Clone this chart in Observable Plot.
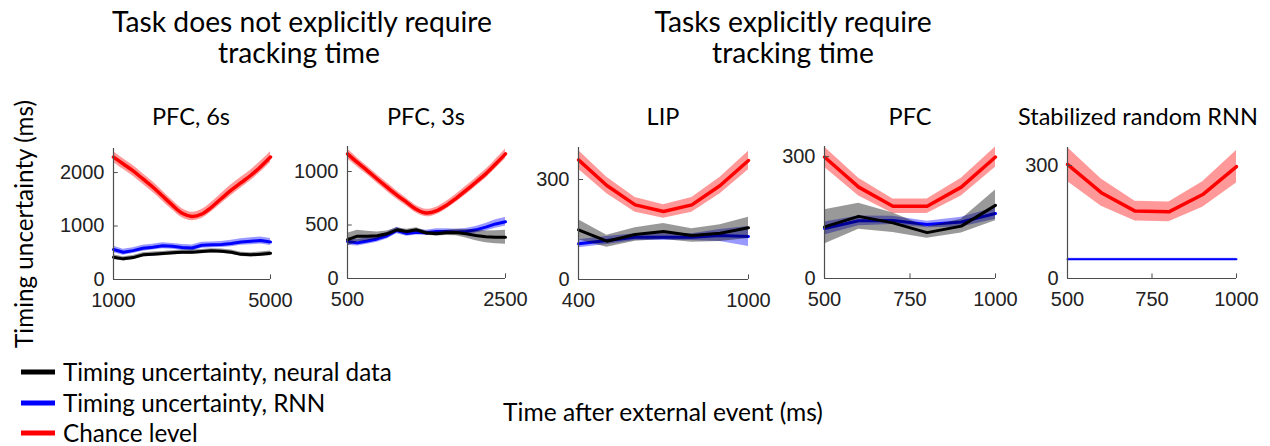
<!DOCTYPE html>
<html><head><meta charset="utf-8">
<script src="https://cdn.jsdelivr.net/npm/d3@7"></script>
<script src="https://cdn.jsdelivr.net/npm/@observablehq/plot@0.6"></script>
<style>
body{margin:0;background:#fff;}
#root{position:relative;width:1270px;height:446px;overflow:hidden;}
.pn{position:absolute;}
</style></head><body><div id="root"></div>
<script>
// ---------- DATA ----------
// Panel 1: PFC, 6s
const p1X = [1000,1250,1500,1750,2000,2250,2500,2750,3000,3250,3500,3750,4000,4250,4500,4750,5000];
const p1Chance = [2290,2160,2030,1880,1730,1560,1390,1240,1180,1225,1355,1515,1670,1810,1950,2110,2290];
const p1ChanceErr = [100,100,100,100,100,95,90,85,80,85,90,95,100,100,100,100,100];
const p1Neural = [417,386,410,461,474,486,500,511,511,523,536,530,511,470,461,474,490];
const p1NeuralErr = [45,40,40,40,40,40,40,40,40,40,40,40,40,40,40,40,45];
const p1Rnn = [561,510,540,585,605,630,620,600,590,640,648,655,673,700,715,730,700];
const p1RnnErr = [60,55,55,55,55,55,55,55,55,55,55,55,60,60,65,65,65];

// Panel 2: PFC, 3s
const p2X = [500,625,750,875,1000,1125,1250,1375,1500,1625,1750,1875,2000,2125,2250,2375,2500];
const p2Chance = [1165,1085,1009,930,854,780,712,645,612,632,683,750,823,900,978,1070,1165];
const p2ChanceErr = [45,42,40,40,40,38,36,35,35,35,36,38,40,40,40,42,45];
const p2Neural = [364,396,396,400,418,455,440,455,425,418,427,430,418,402,390,386,386];
const p2NeuralErr = [60,55,45,35,25,20,20,20,20,20,25,30,40,50,55,60,65];
const p2Rnn = [346,333,350,370,400,449,420,432,427,439,439,435,440,455,480,510,530];
const p2RnnErr = [35,30,30,30,30,30,25,25,25,25,25,25,28,30,35,40,40];

// Panel 3: LIP
const p3X = [400,500,600,700,800,900,1000];
const p3Chance = [359,282,224,204,224,282,357];
const p3ChanceErr = [28,25,22,20,22,25,28];
const p3Neural = [149,115,135,144,132,139,155];
const p3NeuralErr = [30,18,20,24,20,25,32];
const p3Rnn = [107,117,127,127,127,132,129];
const p3RnnErr = [12,12,10,10,10,18,30];

// Panel 4: PFC
const p4X = [500,600,700,800,900,1000];
const p4Chance = [299,225,178,178,225,299];
const p4ChanceErr = [25,22,18,18,22,25];
const p4Neural = [127,153,137,113,129,180];
const p4NeuralErr = [42,32,24,14,17,38];
const p4Rnn = [123,142,143,133,139,160];
const p4RnnErr = [16,12,10,8,12,14];

// Panel 5: Stabilized random RNN
const p5X = [500,600,700,800,900,1000];
const p5Chance = [303,228,179,177,223,297];
const p5ChanceErr = [45,36,26,26,34,43];
const p5Rnn = [51,51,51,51,51,51];
const p5RnnErr = [3,3,3,3,3,3];

// Axis ticks / titles
const panelTitles = ["PFC, 6s","PFC, 3s","LIP","PFC","Stabilized random RNN"];
const xTicks = [[1000,5000],[500,2500],[400,1000],[500,750,1000],[500,750,1000]];
const yTicks = [[0,1000,2000],[0,500,1000],[0,300],[0,300],[0,300]];
const groupTitles = [["Task does not explicitly require","tracking time"],["Tasks explicitly require","tracking time"]];
const legendLabels = ["Timing uncertainty, neural data","Timing uncertainty, RNN","Chance level"];
const legendColors = ["#000000","#0000ff","#ff0000"];
const yLabel = "Timing uncertainty (ms)";
const xLabel = "Time after external event (ms)";

// ---------- LAYOUT ----------
const layout = [
  {left:113,right:270,top:148,bottom:279,ymax:2450,xdom:[1000,5000],smooth:true},
  {left:347,right:505,top:146,bottom:278,ymax:1234,xdom:[500,2500],smooth:true},
  {left:578,right:748,top:147,bottom:279,ymax:396,xdom:[400,1000],smooth:false},
  {left:824,right:995,top:146,bottom:278,ymax:325,xdom:[500,1000],smooth:false},
  {left:1067,right:1236,top:147,bottom:278,ymax:348,xdom:[500,1000],smooth:false}
];
const series = [
  {x:p1X, chance:[p1Chance,p1ChanceErr], neural:[p1Neural,p1NeuralErr], rnn:[p1Rnn,p1RnnErr]},
  {x:p2X, chance:[p2Chance,p2ChanceErr], neural:[p2Neural,p2NeuralErr], rnn:[p2Rnn,p2RnnErr]},
  {x:p3X, chance:[p3Chance,p3ChanceErr], neural:[p3Neural,p3NeuralErr], rnn:[p3Rnn,p3RnnErr]},
  {x:p4X, chance:[p4Chance,p4ChanceErr], neural:[p4Neural,p4NeuralErr], rnn:[p4Rnn,p4RnnErr]},
  {x:p5X, chance:[p5Chance,p5ChanceErr], neural:null, rnn:[p5Rnn,p5RnnErr]}
];

const root = document.getElementById("root");
const AX = "#4d4d4d";

function rows(xs, pair) {
  return xs.map((x,i)=>({x, y:pair[0][i], lo:pair[0][i]-pair[1][i], hi:pair[0][i]+pair[1][i]}));
}

layout.forEach((L, k) => {
  const S = series[k];
  const mL = 70, mR = 25, mT = 6, mB = 40;
  const w = L.right - L.left + mL + mR;
  const h = L.bottom - L.top + mT + mB;
  const xspan = L.xdom[1]-L.xdom[0];
  const rc = L.smooth ? "catmull-rom" : "linear";
  const marks = [];
  const ch = rows(S.x, S.chance);
  marks.push(Plot.areaY(ch, {x:"x", y1:"lo", y2:"hi", fill:"#ff0000", fillOpacity:0.4, curve:rc}));
  const rn = rows(S.x, S.rnn);
  marks.push(Plot.areaY(rn, {x:"x", y1:"lo", y2:"hi", fill:"#0000ff", fillOpacity:0.4}));
  marks.push(Plot.line(rn, {x:"x", y:"y", stroke:"#0000ff", strokeWidth: S.neural ? 3 : 2}));
  if (S.neural) {
    const ne = rows(S.x, S.neural);
    marks.push(Plot.areaY(ne, {x:"x", y1:"lo", y2:"hi", fill:"#000000", fillOpacity:0.4}));
    marks.push(Plot.line(ne, {x:"x", y:"y", stroke:"#000000", strokeWidth:3}));
  }
  marks.push(Plot.line(ch, {x:"x", y:"y", stroke:"#ff0000", strokeWidth:3.5, curve:rc}));
  // axes
  marks.push(Plot.ruleY([0], {x1:L.xdom[0], x2:L.xdom[1], stroke:AX, strokeWidth:1.2}));
  marks.push(Plot.ruleX([L.xdom[0]], {stroke:AX, strokeWidth:1.2}));
  marks.push(Plot.ruleX(xTicks[k], {x:d=>d, y1:0, y2:L.ymax*0.035, stroke:AX}));
  marks.push(Plot.ruleY(yTicks[k], {y:d=>d, x1:L.xdom[0], x2:L.xdom[0]+xspan*0.03, stroke:AX}));
  marks.push(Plot.axisX({ticks:xTicks[k], tickSize:0, tickPadding:13, tickFormat:d=>String(d), label:null}));
  marks.push(Plot.axisY({ticks:yTicks[k], tickSize:0, tickPadding:9, tickFormat:d=>String(d), label:null}));
  const svg = Plot.plot({
    width:w, height:h, marginLeft:mL, marginRight:mR, marginTop:mT, marginBottom:mB,
    x:{domain:L.xdom}, y:{domain:[0,L.ymax]},
    style:{fontFamily:"'Liberation Sans', Arial, sans-serif", fontSize:"20px", color:"#222", background:"transparent", overflow:"visible"},
    marks
  });
  const div = document.createElement("div");
  div.className = "pn";
  div.style.left = (L.left - mL) + "px";
  div.style.top = (L.top - mT) + "px";
  div.appendChild(svg);
  root.appendChild(div);
});

// ---------- TEXT OVERLAY (titles, labels, legend) ----------
const ov = d3.select(root).append("svg")
  .attr("width",1270).attr("height",446)
  .style("position","absolute").style("left","0px").style("top","0px")
  .style("pointer-events","none");
const FONT = "Lato, 'Open Sans', sans-serif";
function addText(str, x, y, size, anchor) {
  return ov.append("text").text(str).attr("x",x).attr("y",y)
    .attr("font-family",FONT).attr("font-size",size).attr("fill","#000")
    .attr("text-anchor",anchor||"middle");
}
function fitSize(str, target) {
  const t = ov.append("text").text(str).attr("font-family",FONT).attr("font-size",20);
  const wNow = t.node().getComputedTextLength();
  t.remove();
  return 20 * target / wNow;
}
// group titles
const gSize = fitSize(groupTitles[0][0], 380);
addText(groupTitles[0][0], 302, 32, gSize);
addText(groupTitles[0][1], 299, 63, gSize);
addText(groupTitles[1][0], 793, 32, gSize);
addText(groupTitles[1][1], 793, 63, gSize);
// panel titles
const ptSize = fitSize(panelTitles[4], 240);
const ptCenters = [191, 426, 663, 910, 1138];
ptCenters.forEach((cx,i)=> addText(panelTitles[i], cx, 125, ptSize));
// axis labels
const ySize = fitSize(yLabel, 248);
ov.append("text").text(yLabel).attr("transform","translate(33,224) rotate(-90)")
  .attr("font-family",FONT).attr("font-size",ySize).attr("text-anchor","middle").attr("fill","#000");
addText(xLabel, 663, 421, fitSize(xLabel, 320));
// legend
const lgSize = fitSize(legendLabels[0], 329);
const lgY = [381, 412, 442];
legendLabels.forEach((s,i)=>{
  addText(s, 63, lgY[i], lgSize, "start");
  ov.append("line").attr("x1",21).attr("x2",55).attr("y1",lgY[i]-9).attr("y2",lgY[i]-9)
    .attr("stroke",legendColors[i]).attr("stroke-width",5);
});
</script>
</body></html>
